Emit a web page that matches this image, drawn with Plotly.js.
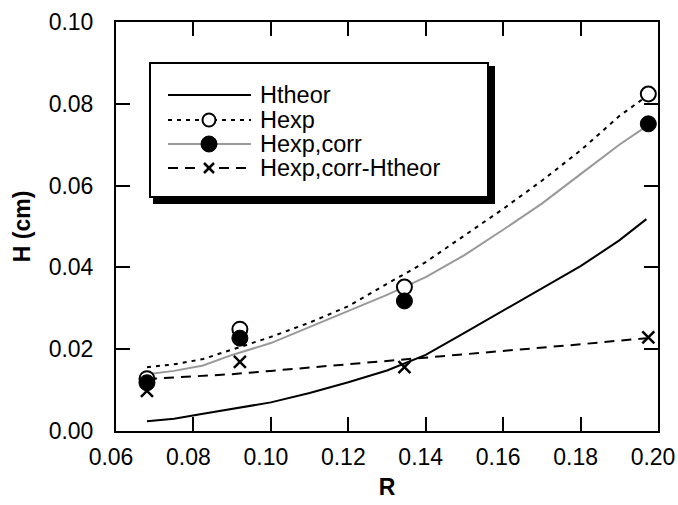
<!DOCTYPE html>
<html>
<head>
<meta charset="utf-8">
<script src="https://cdn.plot.ly/plotly-3.0.1.min.js"></script>
<style>html,body{margin:0;padding:0;background:#fff;}#chart{width:678px;height:505px;}</style>
</head>
<body>
<div id="chart"></div>
<script>
// ---- data ----
var curveR      = [0.068, 0.075, 0.0825, 0.09, 0.10, 0.11, 0.12, 0.13, 0.14, 0.15, 0.16, 0.17, 0.18, 0.19, 0.197];
var hTheorCurve = [0.0024, 0.0030, 0.0042, 0.0054, 0.0070, 0.0093, 0.0119, 0.0148, 0.0186, 0.0240, 0.0294, 0.0347, 0.0403, 0.0466, 0.0518];
var hExpCurve   = [0.0156, 0.0163, 0.0176, 0.0199, 0.0230, 0.0265, 0.0305, 0.0360, 0.0413, 0.0478, 0.0543, 0.0612, 0.0686, 0.0770, 0.0818];
var hCorrCurve  = [0.0139, 0.0147, 0.0160, 0.0186, 0.0215, 0.0255, 0.0294, 0.0333, 0.0376, 0.0430, 0.0492, 0.0556, 0.0628, 0.0700, 0.0745];
var hDiffCurve  = [0.0127, 0.0131, 0.0135, 0.0139, 0.0147, 0.0155, 0.0163, 0.0171, 0.0180, 0.0188, 0.0196, 0.0204, 0.0212, 0.0221, 0.0227];

var pointR      = [0.068, 0.092, 0.1345, 0.1975];
var hExpPts     = [0.0128, 0.0249, 0.0352, 0.0824];
var hCorrPts    = [0.0118, 0.0227, 0.0318, 0.0751];
var hDiffPts    = [0.0098, 0.0169, 0.0156, 0.0229];

var seriesNames = ['Htheor', 'Hexp', 'Hexp,corr', 'Hexp,corr-Htheor'];
var xTickVals = [0.06, 0.08, 0.10, 0.12, 0.14, 0.16, 0.18, 0.20];
var yTickVals = [0.00, 0.02, 0.04, 0.06, 0.08, 0.10];

// ---- styles ----
var FONT = 'Liberation Sans, Arial, Helvetica, sans-serif';
var DOT = '4px,5px';
var DASH = '10px,7px';
var GRAY = '#999999';

var traces = [
  {x: curveR, y: hTheorCurve, mode: 'lines', line: {color: '#000', width: 2}, name: seriesNames[0]},
  {x: curveR, y: hExpCurve, mode: 'lines', line: {color: '#000', width: 2, dash: DOT}, name: seriesNames[1]},
  {x: curveR, y: hCorrCurve, mode: 'lines', line: {color: GRAY, width: 2}, name: seriesNames[2]},
  {x: curveR, y: hDiffCurve, mode: 'lines', line: {color: '#000', width: 2, dash: DASH}, name: seriesNames[3]},
  {x: pointR, y: hExpPts, mode: 'markers', marker: {symbol: 'circle', size: 15, color: '#fff', line: {color: '#000', width: 2}}, name: seriesNames[1]},
  {x: pointR, y: hCorrPts, mode: 'markers', marker: {symbol: 'circle', size: 16, color: '#000', line: {color: '#000', width: 1}}, name: seriesNames[2]},
  {x: pointR, y: hDiffPts, mode: 'markers', marker: {symbol: 'x-thin', size: 12, color: '#000', line: {color: '#000', width: 2.5}}, name: seriesNames[3]}
];
traces.forEach(function(t){ t.showlegend = false; t.hoverinfo = 'skip'; });

// ---- manual legend (pixel layout converted to paper coords) ----
var L = 116, R = 658, T = 22, B = 431;
function px(x){ return (x - L) / (R - L); }
function py(y){ return (B - y) / (B - T); }

var shapes = [];
var annotations = [];
// shadow bands
shapes.push({type: 'rect', xref: 'paper', yref: 'paper', x0: px(488), x1: px(495), y0: py(66), y1: py(204), fillcolor: '#000', line: {width: 0}, layer: 'above'});
shapes.push({type: 'rect', xref: 'paper', yref: 'paper', x0: px(153), x1: px(495), y0: py(197), y1: py(204), fillcolor: '#000', line: {width: 0}, layer: 'above'});
// box
shapes.push({type: 'rect', xref: 'paper', yref: 'paper', x0: px(150), x1: px(488), y0: py(197), y1: py(63), fillcolor: '#fff', line: {color: '#000', width: 2}, layer: 'above'});

var rowY = [95, 120, 144, 168];
var lineStyles = [
  {color: '#000', width: 2, dash: 'solid'},
  {color: '#000', width: 2, dash: DOT},
  {color: GRAY, width: 2, dash: 'solid'},
  {color: '#000', width: 2, dash: DASH}
];
for (var i = 0; i < 4; i++) {
  shapes.push({type: 'line', xref: 'paper', yref: 'paper', x0: px(168), x1: px(251), y0: py(rowY[i]), y1: py(rowY[i]), line: lineStyles[i], layer: 'above'});
  annotations.push({xref: 'paper', yref: 'paper', x: px(258), y: py(rowY[i]), xanchor: 'left', yanchor: 'middle', text: seriesNames[i], showarrow: false, font: {family: FONT, size: 23.5, color: '#000'}});
}
// legend glyphs
var gx = px(209);
shapes.push({type: 'circle', xref: 'paper', yref: 'paper', xsizemode: 'pixel', ysizemode: 'pixel', xanchor: gx, yanchor: py(rowY[1]), x0: -6.5, x1: 6.5, y0: -6.5, y1: 6.5, fillcolor: '#fff', line: {color: '#000', width: 2}, layer: 'above'});
shapes.push({type: 'circle', xref: 'paper', yref: 'paper', xsizemode: 'pixel', ysizemode: 'pixel', xanchor: gx, yanchor: py(rowY[2]), x0: -8, x1: 8, y0: -8, y1: 8, fillcolor: '#000', line: {color: '#000', width: 1}, layer: 'above'});
shapes.push({type: 'rect', xref: 'paper', yref: 'paper', xsizemode: 'pixel', ysizemode: 'pixel', xanchor: gx, yanchor: py(rowY[3]), x0: -8, x1: 8, y0: -8, y1: 8, fillcolor: '#fff', line: {width: 0}, layer: 'above'});
shapes.push({type: 'line', xref: 'paper', yref: 'paper', xsizemode: 'pixel', ysizemode: 'pixel', xanchor: gx, yanchor: py(rowY[3]), x0: -5, x1: 5, y0: -5, y1: 5, line: {color: '#000', width: 2.5}, layer: 'above'});
shapes.push({type: 'line', xref: 'paper', yref: 'paper', xsizemode: 'pixel', ysizemode: 'pixel', xanchor: gx, yanchor: py(rowY[3]), x0: -5, x1: 5, y0: 5, y1: -5, line: {color: '#000', width: 2.5}, layer: 'above'});

var axisCommon = {
  showgrid: false, zeroline: false, showline: true, linecolor: '#000', linewidth: 2,
  mirror: 'ticks', ticks: 'inside', ticklen: 14, tickwidth: 2, tickcolor: '#000',
  tickformat: '.2f', tickfont: {family: FONT, size: 23, color: '#000'}
};

var layout = {
  width: 678, height: 505,
  margin: {l: L, r: 678 - R, t: T, b: 505 - B, pad: 0},
  paper_bgcolor: '#fff', plot_bgcolor: '#fff',
  font: {family: FONT, color: '#000'},
  showlegend: false,
  xaxis: Object.assign({}, axisCommon, {
    range: [0.06, 0.2000001], tickvals: xTickVals, ticklabelstandoff: 4, ticklabelshift: -5,
    title: {text: '<b>R</b>', font: {family: FONT, size: 23, color: '#000'}, standoff: 10}
  }),
  yaxis: Object.assign({}, axisCommon, {
    range: [0, 0.1000001], tickvals: yTickVals, ticklabelstandoff: 16,
    title: {text: '<b>H (cm)</b>', font: {family: FONT, size: 23, color: '#000'}, standoff: 12}
  }),
  shapes: shapes,
  annotations: annotations
};

Plotly.newPlot('chart', traces, layout, {staticPlot: true, displayModeBar: false});
</script>
</body>
</html>
